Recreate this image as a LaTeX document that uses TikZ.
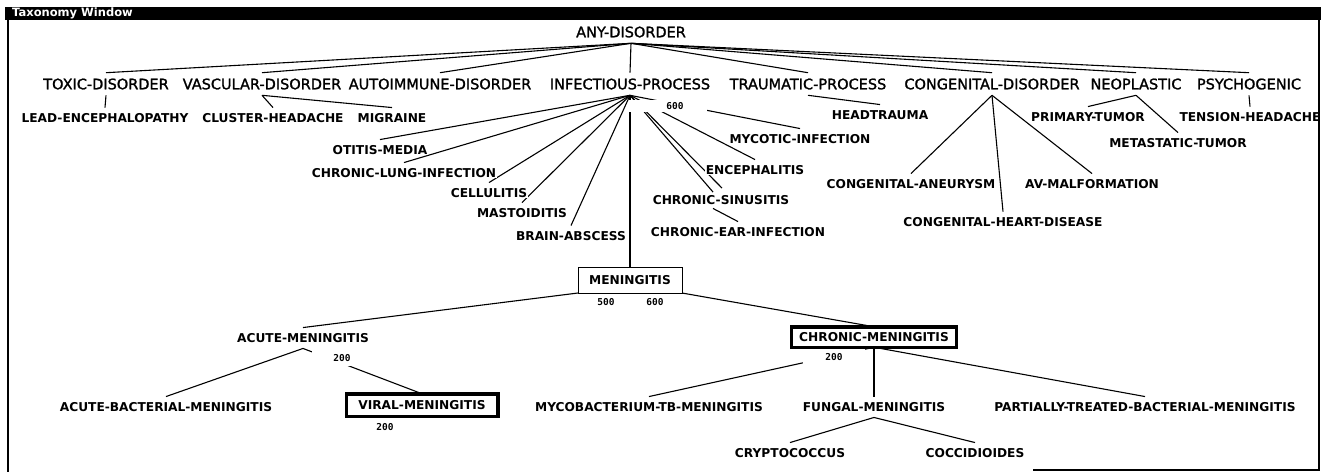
\documentclass[tikz,border=0pt]{standalone}
\usepackage{fontspec}
\setmainfont{DejaVu Sans}
\newfontfamily\catfont[FakeBold=1.4]{DejaVu Sans}
\newfontfamily\numfont{DejaVu Sans Mono}
\usetikzlibrary{backgrounds,calc}
\tikzset{
  cat/.style={font=\catfont\fontsize{14.5}{16}\selectfont, fill=white, inner xsep=1pt, inner ysep=1pt, outer ysep=5pt, outer xsep=0pt, text height=10.6pt, text depth=0pt},
  leaf/.style={font=\bfseries\fontsize{12.2}{14}\selectfont, fill=white, inner xsep=1pt, inner ysep=1pt, outer ysep=5pt, outer xsep=0pt, text height=8.9pt, text depth=0pt},
  numlab/.style={font=\numfont\bfseries\fontsize{9.5}{10}\selectfont, fill=white, inner xsep=2pt, inner ysep=1.5pt, text height=6.9pt, text depth=0pt},
  conn/.style={line width=1.1pt},
  thinbox/.style={leaf, draw, line width=1pt, outer sep=0pt, minimum width=104pt, minimum height=26pt},
  thickbox/.style={leaf, draw, line width=3.5pt, outer sep=0pt},
}
\begin{document}
\begin{tikzpicture}[x=1pt,y=-1pt]
\useasboundingbox (0,0) rectangle (1323,472);
% root and first level
\node[cat] (anyd) at (631,32) {ANY-DISORDER};
\node[cat] (toxic) at (106,84) {TOXIC-DISORDER};
\node[cat] (vasc) at (262,84) {VASCULAR-DISORDER};
\node[cat] (auto) at (440,84) {AUTOIMMUNE-DISORDER};
\node[cat] (infec) at (630,84) {INFECTIOUS-PROCESS};
\node[cat] (traum) at (808,84) {TRAUMATIC-PROCESS};
\node[cat] (cong) at (992,84) {CONGENITAL-DISORDER};
\node[cat] (neo) at (1136,84) {NEOPLASTIC};
\node[cat] (psych) at (1249,84) {PSYCHOGENIC};
% leaves
\node[leaf] (lead) at (105,118) {LEAD-ENCEPHALOPATHY};
\node[leaf] (cluster) at (273,118) {CLUSTER-HEADACHE};
\node[leaf] (migraine) at (392,118) {MIGRAINE};
\node[leaf] (headtr) at (880,115) {HEADTRAUMA};
\node[leaf] (primary) at (1088,117) {PRIMARY-TUMOR};
\node[leaf] (tension) at (1250,117) {TENSION-HEADACHE};
\node[leaf] (mycotic) at (800,139) {MYCOTIC-INFECTION};
\node[leaf] (metast) at (1178,143) {METASTATIC-TUMOR};
\node[leaf] (otitis) at (380,150) {OTITIS-MEDIA};
\node[leaf] (enceph) at (755,170) {ENCEPHALITIS};
\node[leaf] (chlung) at (404,173) {CHRONIC-LUNG-INFECTION};
\node[leaf] (caneur) at (911,184) {CONGENITAL-ANEURYSM};
\node[leaf] (avmal) at (1092,184) {AV-MALFORMATION};
\node[leaf] (cellul) at (489,193) {CELLULITIS};
\node[leaf] (sinus) at (721,200) {CHRONIC-SINUSITIS};
\node[leaf] (mastoid) at (522,213) {MASTOIDITIS};
\node[leaf] (heart) at (1003,222) {CONGENITAL-HEART-DISEASE};
\node[leaf] (ear) at (738,232) {CHRONIC-EAR-INFECTION};
\node[leaf] (brain) at (571,236) {BRAIN-ABSCESS};
\node[thinbox] (mening) at (630,280) {MENINGITIS};
\node[leaf] (acute) at (303,338) {ACUTE-MENINGITIS};
\node[thickbox, minimum width=165pt, minimum height=20.5pt] (chronic) at (874,337) {CHRONIC-MENINGITIS};
\node[leaf] (acbact) at (166,407) {ACUTE-BACTERIAL-MENINGITIS};
\node[thickbox, minimum width=151.5pt, minimum height=22.5pt] (viral) at (422,405) {VIRAL-MENINGITIS};
\node[leaf] (myco) at (649,407) {MYCOBACTERIUM-TB-MENINGITIS};
\node[leaf] (fungal) at (874,407) {FUNGAL-MENINGITIS};
\node[leaf] (partial) at (1145,407) {PARTIALLY-TREATED-BACTERIAL-MENINGITIS};
\node[leaf] (crypto) at (790,453) {CRYPTOCOCCUS};
\node[leaf] (cocci) at (975,453) {COCCIDIOIDES};
% number labels
\node[numlab, minimum width=78pt, minimum height=12pt, inner sep=0pt] (l600a) at (668,106) {\hspace*{14pt}600};
\node[numlab] (l500) at (606,302) {500};
\node[numlab] (l600b) at (655,302) {600};
\node[numlab, minimum width=40pt, minimum height=16pt, inner sep=0pt] (l200a) at (332,358) {\hspace*{20pt}200};
\node[numlab] (l200b) at (385,427) {200};
\node[numlab, minimum width=62pt, minimum height=16pt] (l200c) at (834,357) {200};
% connectors
\begin{scope}[on background layer]
\foreach \c in {toxic,vasc,auto,infec,traum,cong,neo,psych}
  \draw[conn] (anyd.south) -- (\c.north);
\draw[conn] (toxic.south) -- (lead.north);
\draw[conn] (vasc.south) -- (cluster.north);
\draw[conn] (vasc.south) -- (migraine.north);
\draw[conn] (traum.south) -- (headtr.north);
\foreach \c in {caneur,heart,avmal}
  \draw[conn] (cong.south) -- (\c.north);
\draw[conn] (neo.south) -- (primary.north);
\draw[conn] (neo.south) -- (metast.north);
\draw[conn] (psych.south) -- (tension.north);
\foreach \c in {otitis,chlung,cellul,mastoid,brain,mening,mycotic,enceph}
  \draw[conn] (infec.south) -- (\c.north);
\draw[conn] (infec.south) -- ($(sinus.north)+(-8,2.5)$);
\draw[conn] (infec.south) -- ($(sinus.north)+(1,-1.5)$);
\draw[conn] ($(sinus.south)+(-8,-2)$) -- (ear.north);
\draw[conn] (mening.south west) -- (acute.north);
\draw[conn] (mening.south east) -- (chronic.north);
\draw[conn] (acute.south) -- (acbact.north);
\draw[conn] (acute.south) -- (viral.north);
\draw[conn] (chronic.south) -- (myco.north);
\draw[conn] (chronic.south) -- (fungal.north);
\draw[conn] (chronic.south) -- (partial.north);
\draw[conn] (fungal.south) -- (crypto.north);
\draw[conn] (fungal.south) -- (cocci.north);
\end{scope}
% window frame
\fill (5,7) rectangle (1321,20);
\node[anchor=west, text=white, font=\bfseries\fontsize{11.5}{12}\selectfont, inner sep=0pt] (title) at (12,13.2) {Taxonomy Window};
\draw[line width=2pt] (8,20) -- (8,472);
\draw[line width=2pt] (1319,20) -- (1319,470) -- (1033,470);
\end{tikzpicture}
\end{document}
